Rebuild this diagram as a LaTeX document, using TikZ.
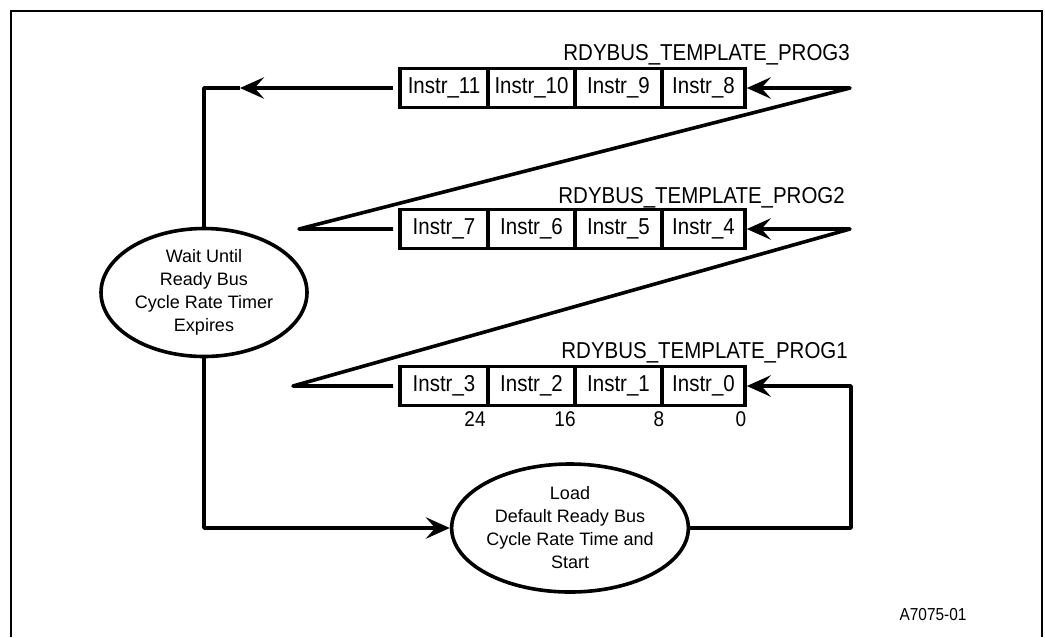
\documentclass[tikz,border=0pt]{standalone}
\usepackage{fontspec}
\setmainfont{Liberation Sans}
\newfontfamily\narrowsans[FakeStretch=0.89]{Liberation Sans}
\usetikzlibrary{arrows.meta,shapes.geometric}

\tikzset{
  wire/.style={line width=2.7pt, line join=round},
  flow/.style={wire, -{Stealth[length=18pt,width=16pt,inset=7pt]}},
  cell/.style={draw, line width=2.7pt, rectangle, inner sep=0pt,
    minimum height=29.25pt, font=\narrowsans\fontsize{17.25pt}{20pt}\selectfont},
  state/.style={draw, ellipse, line width=2.7pt, inner sep=0pt,
    minimum width=154.5pt, minimum height=96pt, align=center,
    font=\fontsize{13.5pt}{17.25pt}\selectfont},
  reglabel/.style={anchor=base east, inner sep=0pt,
    font=\narrowsans\fontsize{17.25pt}{20pt}\selectfont},
  bitpos/.style={inner sep=0pt, font=\narrowsans\fontsize{16pt}{18pt}\selectfont},
  tagtext/.style={inner sep=0pt, font=\narrowsans\fontsize{13pt}{14pt}\selectfont},
}

\begin{document}
\begin{tikzpicture}[x=0.75pt, y=-0.75pt]
\useasboundingbox (0,0) rectangle (1045,637);

% outer frame
\draw[line width=1.9pt] (11,637) -- (11,11) -- (1042,11) -- (1042,637);

% register PROG3
\node[reglabel] (lab3) at (850,60) {RDYBUS\_TEMPLATE\_PROG3};
\node[cell, minimum width=66pt]    (r3a) at (444,88)   {Instr\_11};
\node[cell, minimum width=65.25pt] (r3b) at (531.5,88) {Instr\_10};
\node[cell, minimum width=65.25pt] (r3c) at (618.5,88) {Instr\_9};
\node[cell, minimum width=62.25pt] (r3d) at (703.5,88) {Instr\_8};

% register PROG2
\node[reglabel] (lab2) at (845,203) {RDYBUS\_TEMPLATE\_PROG2};
\node[cell, minimum width=66pt]    (r2a) at (444,229)   {Instr\_7};
\node[cell, minimum width=65.25pt] (r2b) at (531.5,229) {Instr\_6};
\node[cell, minimum width=65.25pt] (r2c) at (618.5,229) {Instr\_5};
\node[cell, minimum width=62.25pt] (r2d) at (703.5,229) {Instr\_4};

% register PROG1
\node[reglabel] (lab1) at (848,358) {RDYBUS\_TEMPLATE\_PROG1};
\node[cell, minimum width=66pt]    (r1a) at (444,386)   {Instr\_3};
\node[cell, minimum width=65.25pt] (r1b) at (531.5,386) {Instr\_2};
\node[cell, minimum width=65.25pt] (r1c) at (618.5,386) {Instr\_1};
\node[cell, minimum width=62.25pt] (r1d) at (703.5,386) {Instr\_0};

% bit positions
\node[bitpos] (b24) at (475,419) {24};
\node[bitpos] (b16) at (565,419) {16};
\node[bitpos] (b8)  at (659,419) {8};
\node[bitpos] (b0)  at (741,419) {0};

% states
\node[state] (wait) at (204,292.5) {Wait Until\\Ready Bus\\Cycle Rate Timer\\Expires};
\node[state] (load) at (570,528) {Load\\Default Ready Bus\\Cycle Rate Time and\\Start};

% bend points
\coordinate (tipA) at (240,88);
\coordinate (bend) at (204,88);
\coordinate (z2l) at (299,229);
\coordinate (z3r) at (850,88);
\coordinate (z1l) at (293,386);
\coordinate (z2r) at (850,229);
\coordinate (ret)  at (851,528);

% connectors
\draw[flow] (wait.south) |- (load.west);
\draw[flow] (load.east) -- (ret) |- (r1d.east);
\draw[flow, shorten <=3.75pt] (r1a.west) -- (z1l) -- (z2r) -- (r2d.east);
\draw[flow, shorten <=3.75pt] (r2a.west) -- (z2l) -- (z3r) -- (r3d.east);
\draw[flow, shorten <=3.75pt] (r3a.west) -- (tipA);
\draw[wire] (tipA) -- (bend) -- (wait.north);

\node[tagtext] (tag) at (933,615) {A7075-01};
\end{tikzpicture}
\end{document}
